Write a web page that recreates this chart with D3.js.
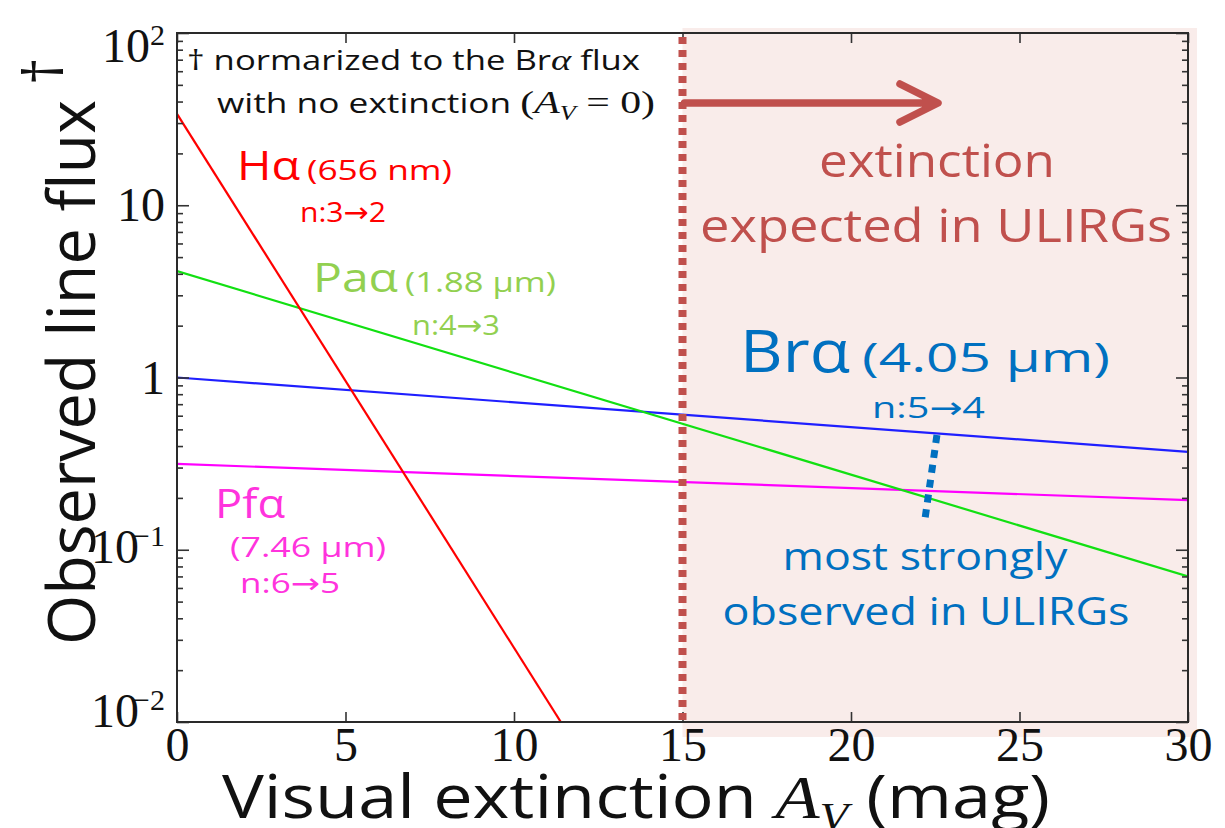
<!DOCTYPE html>
<html>
<head>
<meta charset="utf-8">
<script src="https://cdn.jsdelivr.net/npm/d3@7"></script>
<style>
  body { margin: 0; background: #fff; }
  svg { display: block; }
</style>
</head>
<body>
<svg id="chart" width="1225" height="828"></svg>
<script>
// ---- data -------------------------------------------------------------
// Visual extinction A_V (mag) and observed line flux, normalised to the
// unextinguished Br-alpha flux. Each line is straight in log(flux).
const avTicks = [0, 5, 10, 15, 20, 25, 30];
const fluxMajorTicks = [1e-2, 1e-1, 1, 10, 100];
const fluxTickLabels = [["10", "\u22122"], ["10", "\u22121"], ["1", ""], ["10", ""], ["10", "2"]];

const haAv = [0, 11.39];  const haFlux = [33.9, 0.01];   // H-alpha 656 nm
const paAv = [0, 30];     const paFlux = [4.15, 0.070];  // Pa-alpha 1.88 um
const brAv = [0, 30];     const brFlux = [1.0, 0.37];    // Br-alpha 4.05 um
const pfAv = [0, 30];     const pfFlux = [0.315, 0.194]; // Pf-alpha 7.46 um

const ulirgAvMin = 15;                 // extinction expected in ULIRGs starts here
const markerAv = [22.55, 22.2];        // short dotted pointer below Br-alpha
const markerFlux = [0.463, 0.153];

// ---- layout -----------------------------------------------------------
const L = 177, R = 1188, T = 33, B = 722;
const SANS = "'Open Sans', 'Noto Sans', sans-serif";
const SERIF = "'Liberation Serif', 'DejaVu Serif', serif";
const ARROWFONT = "'DejaVu Sans', sans-serif";
const BRICK = "#c0504d";

const svg = d3.select("#chart");
const x = d3.scaleLinear().domain([0, 30]).range([L, R]);
const y = d3.scaleLog().domain([0.01, 100]).range([B, T]);

// shaded ULIRG region (slightly overhangs the frame)
svg.append("rect")
  .attr("x", x(ulirgAvMin)).attr("y", 28)
  .attr("width", 1197 - x(ulirgAvMin)).attr("height", 737 - 28)
  .attr("fill", "#f9ecea");

svg.append("defs").append("clipPath").attr("id", "plotClip")
  .append("rect").attr("x", L).attr("y", T).attr("width", R - L).attr("height", B - T);

// ---- series -----------------------------------------------------------
const series = [
  { av: pfAv, flux: pfFlux, color: "#ff00ff" },
  { av: brAv, flux: brFlux, color: "#1f1fff" },
  { av: paAv, flux: paFlux, color: "#12e012" },
  { av: haAv, flux: haFlux, color: "#ff0000" }
];
const line = d3.line().x(d => x(d[0])).y(d => y(d[1]));
const gLines = svg.append("g").attr("clip-path", "url(#plotClip)");
series.forEach(s => {
  gLines.append("path")
    .datum(d3.zip(s.av, s.flux))
    .attr("d", line)
    .attr("fill", "none")
    .attr("stroke", s.color)
    .attr("stroke-width", 2.2);
});

// ---- axes (ticks point inward on all four sides) ----------------------
const minorTicks = [];
for (let e = -2; e < 2; e++) for (let m = 2; m <= 9; m++) minorTicks.push(m * Math.pow(10, e));

function styleAxis(g) {
  g.select(".domain").remove();
  g.selectAll(".tick line").attr("stroke", "#333").attr("stroke-width", 1.6);
}
svg.append("g").attr("transform", `translate(0,${B})`)
  .call(d3.axisBottom(x).tickValues(avTicks).tickSizeInner(-10).tickSizeOuter(0).tickPadding(5))
  .call(styleAxis)
  .call(g => g.selectAll(".tick text").attr("font-family", SERIF).attr("font-size", 48).attr("fill", "#111"));
svg.append("g").attr("transform", `translate(0,${T})`)
  .call(d3.axisTop(x).tickValues(avTicks).tickSizeInner(-10).tickSizeOuter(0).tickFormat(""))
  .call(styleAxis);
[[d3.axisLeft, L], [d3.axisRight, R]].forEach(([ax, pos]) => {
  svg.append("g").attr("transform", `translate(${pos},0)`)
    .call(ax(y).tickValues(fluxMajorTicks).tickSizeInner(-12).tickSizeOuter(0).tickFormat(""))
    .call(styleAxis);
  svg.append("g").attr("transform", `translate(${pos},0)`)
    .call(ax(y).tickValues(minorTicks).tickSizeInner(-6).tickSizeOuter(0).tickFormat(""))
    .call(styleAxis);
});

// y tick labels with exponents
const labelDrop = [5, 13, 16, 16, 29];
fluxMajorTicks.forEach((v, i) => {
  const [base, exp] = fluxTickLabels[i];
  const t = svg.append("text")
    .attr("x", 165).attr("y", y(v) + labelDrop[i])
    .attr("text-anchor", "end")
    .attr("font-family", SERIF).attr("font-size", 48).attr("fill", "#111");
  t.append("tspan").text(base);
  if (exp) t.append("tspan").attr("font-size", 30).attr("dy", -17).attr("dx", exp.length > 1 ? -6 : 0).text(exp);
});

// frame
svg.append("rect").attr("x", L).attr("y", T).attr("width", R - L).attr("height", B - T)
  .attr("fill", "none").attr("stroke", "#2a2a2a").attr("stroke-width", 2);

// ---- ULIRG marker line and arrow ---------------------------------------
svg.append("line")
  .attr("x1", x(ulirgAvMin)).attr("x2", x(ulirgAvMin))
  .attr("y1", 37).attr("y2", B)
  .attr("stroke", BRICK).attr("stroke-width", 8).attr("stroke-dasharray", "7,6");
svg.append("path")
  .attr("d", `M${x(ulirgAvMin) + 2},103 H936 M900,84 L938,103 L900,122`)
  .attr("fill", "none").attr("stroke", BRICK).attr("stroke-width", 7.5)
  .attr("stroke-linecap", "round").attr("stroke-linejoin", "round");

// pointer from Br-alpha label downward
svg.append("line")
  .attr("x1", x(markerAv[0])).attr("y1", y(markerFlux[0]))
  .attr("x2", x(markerAv[1])).attr("y2", y(markerFlux[1]))
  .attr("stroke", "#0070c0").attr("stroke-width", 7).attr("stroke-dasharray", "8,7");

// ---- text helpers -----------------------------------------------------
function txt(xp, yp, parts, opts = {}) {
  const t = svg.append("text")
    .attr("x", xp).attr("y", yp)
    .attr("text-anchor", opts.anchor || "start")
    .attr("font-family", SANS)
    .attr("font-size", opts.size || 27)
    .attr("fill", opts.color || "#111");
  if (opts.width) t.attr("textLength", opts.width).attr("lengthAdjust", "spacingAndGlyphs");
  parts.forEach(p => {
    const s = t.append("tspan").text(p.t);
    if (p.family) s.attr("font-family", p.family);
    if (p.italic) s.attr("font-style", "italic");
    if (p.size) s.attr("font-size", p.size);
    if (p.dy) s.attr("dy", p.dy);
  });
  return t;
}
// "n:a→b" transition label; the arrow comes from a font that carries it
function transition(xp, yp, upper, lower, size, color, width) {
  return txt(xp, yp, [{ t: "n:" + upper }, { t: "\u2192", family: ARROWFONT }, { t: lower }],
    { size, color, width });
}

// footnote in the upper left
txt(187, 70, [{ t: "† normarized to the Br" }, { t: "α", family: SERIF, italic: true, size: 30 }, { t: " flux" }],
  { size: 27, width: 453 });
txt(217, 113, [{ t: "with no extinction " }, { t: "(", family: SERIF, size: 32 },
  { t: "A", family: SERIF, italic: true, size: 32 }, { t: "V", family: SERIF, italic: true, size: 20, dy: 7 },
  { t: " = 0)", family: SERIF, size: 32, dy: -7 }], { size: 27, width: 438 });

// ULIRG region caption
txt(937, 177, [{ t: "extinction" }], { size: 46, color: BRICK, anchor: "middle", width: 236 });
txt(936, 242, [{ t: "expected in ULIRGs" }], { size: 46, color: BRICK, anchor: "middle", width: 472 });

// line labels
txt(237, 180, [{ t: "Hα" }], { size: 40, color: "#ff0000", width: 63 });
txt(307, 180, [{ t: "(656 nm)" }], { size: 28, color: "#ff0000", width: 145 });
transition(300, 222, "3", "2", 28, "#ff0000", 86);

txt(313, 292, [{ t: "Paα" }], { size: 40, color: "#92d050", width: 85 });
txt(405, 292, [{ t: "(1.88 μm)" }], { size: 28, color: "#92d050", width: 151 });
transition(412, 335, "4", "3", 28, "#92d050", 88);

txt(740, 372, [{ t: "Brα" }], { size: 58, color: "#0070c0", width: 110 });
txt(862, 372, [{ t: "(4.05 μm)" }], { size: 40, color: "#0070c0", width: 248 });
transition(872, 418, "5", "4", 30, "#0070c0", 113);

txt(215, 518, [{ t: "Pfα" }], { size: 40, color: "#ff33dd", width: 70 });
txt(230, 557, [{ t: "(7.46 μm)" }], { size: 28, color: "#ff33dd", width: 156 });
transition(240, 593, "6", "5", 28, "#ff33dd", 100);

txt(925, 570, [{ t: "most strongly" }], { size: 38, color: "#0070c0", anchor: "middle", width: 285 });
txt(926, 625, [{ t: "observed in ULIRGs" }], { size: 38, color: "#0070c0", anchor: "middle", width: 407 });

// axis titles
txt(222, 818, [{ t: "Visual extinction " }, { t: "A", family: SERIF, italic: true, size: 62 },
  { t: "V", family: SERIF, italic: true, size: 40, dy: 12 }, { t: " (mag)", dy: -12 }],
  { size: 60, width: 828 });

const yTitle = svg.append("g").attr("transform", "translate(95,645) rotate(-90)");
yTitle.append("text").attr("x", 0).attr("y", 0)
  .attr("font-family", SANS).attr("font-size", 66).attr("fill", "#111")
  .attr("textLength", 545).attr("lengthAdjust", "spacingAndGlyphs")
  .text("Observed line flux");
yTitle.append("text").attr("x", 560).attr("y", -32)
  .attr("font-family", SANS).attr("font-size", 54).attr("fill", "#111")
  .text("†");
</script>
</body>
</html>
